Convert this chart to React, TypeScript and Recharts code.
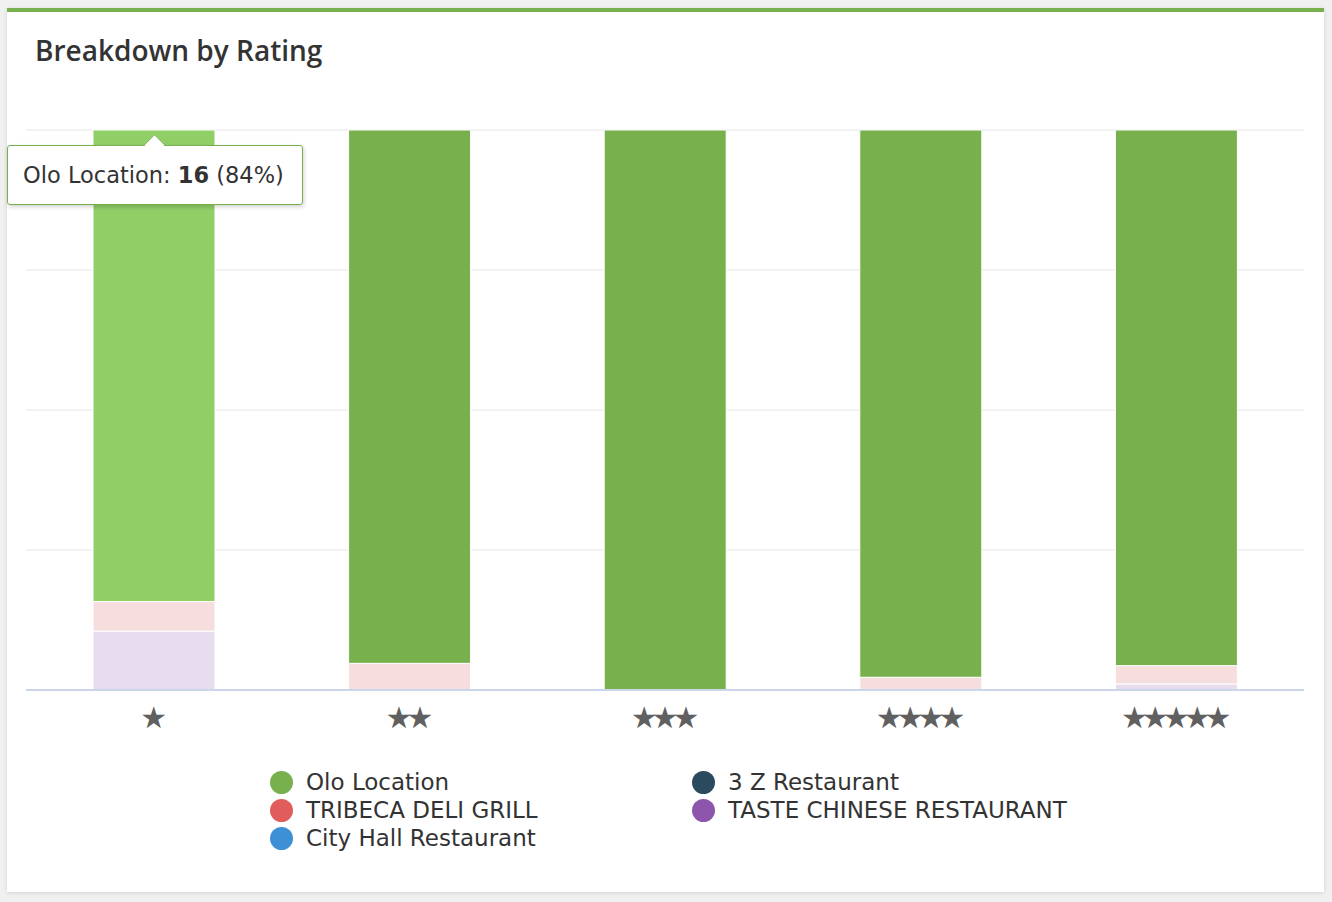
import React from "react";
import {
  BarChart,
  Bar,
  XAxis,
  YAxis,
  CartesianGrid,
  Tooltip,
  Cell,
} from "recharts";

const categories = ["★", "★★", "★★★", "★★★★", "★★★★★"];
const oloLocation = [16, 20, 36, 43, 88];
const tribecaDeliGrill = [1, 1, 0, 1, 3];
const cityHallRestaurant = [0, 0, 0, 0, 0];
const threeZRestaurant = [0, 0, 0, 0, 0];
const tasteChineseRestaurant = [2, 0, 0, 0, 1];

const yTicks = [0, 0.25, 0.5, 0.75, 1];

// series in legend order; fade = colour when another series is hovered
const seriesList = [
  { key: "olo", name: "Olo Location", values: oloLocation, color: "#78B04E", hover: "#90CE66", fade: "#78B04E" },
  { key: "tribeca", name: "TRIBECA DELI GRILL", values: tribecaDeliGrill, color: "#E05D5B", hover: "#E05D5B", fade: "#F6DEDE" },
  { key: "cityHall", name: "City Hall Restaurant", values: cityHallRestaurant, color: "#3D8FD6", hover: "#3D8FD6", fade: "#D8E9F7" },
  { key: "threeZ", name: "3 Z Restaurant", values: threeZRestaurant, color: "#2A4A5E", hover: "#2A4A5E", fade: "#D4DBDF" },
  { key: "taste", name: "TASTE CHINESE RESTAURANT", values: tasteChineseRestaurant, color: "#8E55AC", hover: "#8E55AC", fade: "#E8DDEE" },
];

const hoveredSeries = "olo";
const hoveredIndex = 0;

const data = categories.map((c, i) => {
  const row: Record<string, string | number> = { rating: c };
  seriesList.forEach((s) => (row[s.key] = s.values[i]));
  return row;
});

// bottom of the stack first
const stackOrder = [...seriesList].reverse();

const TITLE_FONT = "'Open Sans', 'DejaVu Sans', sans-serif";
const LABEL_FONT = "'DejaVu Sans', sans-serif";

function StarTick({ x, y, payload }: any) {
  return (
    <text
      x={x}
      y={y + 25}
      dx={-3}
      textAnchor="middle"
      dominantBaseline="central"
      fill="#606060"
      fontSize={30}
      fontFamily={LABEL_FONT}
      letterSpacing={-6}
    >
      {payload.value}
    </text>
  );
}

function TipBox() {
  const s = seriesList.find((d) => d.key === hoveredSeries)!;
  const v = s.values[hoveredIndex];
  const total = seriesList.reduce((a, d) => a + d.values[hoveredIndex], 0);
  const pct = Math.round((v / total) * 100);
  return (
    <div
      style={{
        position: "relative",
        width: 296,
        height: 60,
        background: "#fff",
        border: `1px solid ${s.color}`,
        borderRadius: 3,
        boxShadow: "1px 2px 4px rgba(0,0,0,0.18)",
        fontFamily: LABEL_FONT,
        fontSize: 22.5,
        color: "#333",
        boxSizing: "border-box",
        display: "flex",
        alignItems: "center",
        paddingLeft: 15,
      }}
    >
      <div
        style={{
          position: "absolute",
          left: 139,
          top: -9,
          width: 14,
          height: 14,
          background: "#fff",
          borderLeft: `1px solid ${s.color}`,
          borderTop: `1px solid ${s.color}`,
          transform: "rotate(45deg)",
        }}
      />
      <span style={{ position: "relative" }}>
        {s.name}: <b>{v}</b> ({pct}%)
      </span>
    </div>
  );
}

export default function App() {
  return (
    <div
      style={{
        position: "absolute",
        left: 0,
        top: 0,
        width: 1332,
        height: 902,
        background: "#f0f0f0",
        overflow: "hidden",
      }}
    >
      <div
        style={{
          position: "absolute",
          left: 7,
          top: 8,
          width: 1317,
          height: 884,
          background: "#fff",
          borderTop: "4px solid #78B04E",
          boxSizing: "border-box",
          boxShadow: "0 1px 4px rgba(0,0,0,0.12)",
        }}
      />
      <div
        style={{
          position: "absolute",
          left: 35,
          top: 31,
          fontFamily: TITLE_FONT,
          fontWeight: 600,
          fontSize: 28,
          color: "#333",
        }}
      >
        Breakdown by Rating
      </div>
      <div style={{ position: "absolute", left: 0, top: 0 }}>
        <BarChart
          width={1332}
          height={760}
          data={data}
          stackOffset="expand"
          margin={{ top: 130, left: 26, right: 28, bottom: 0 }}
          barSize={122}
        >
          <CartesianGrid vertical={false} stroke="#e6e6e6" />
          <YAxis hide domain={[0, 1]} ticks={yTicks} />
          <XAxis
            dataKey="rating"
            height={70}
            axisLine={{ stroke: "#ccd6eb", strokeWidth: 2 }}
            tickLine={false}
            tickSize={0}
            tick={<StarTick />}
            interval={0}
          />
          {stackOrder.map((s) => (
            <Bar
              key={s.key}
              dataKey={s.key}
              name={s.name}
              stackId="rating"
              stroke="#fff"
              strokeWidth={1}
              isAnimationActive={false}
            >
              {categories.map((c, i) => (
                <Cell
                  key={c}
                  fill={
                    s.key === hoveredSeries
                      ? i === hoveredIndex
                        ? s.hover
                        : s.color
                      : s.fade
                  }
                />
              ))}
            </Bar>
          ))}
          <Tooltip
            active
            defaultIndex={hoveredIndex}
            cursor={false}
            isAnimationActive={false}
            position={{ x: 7, y: 145 }}
            wrapperStyle={{ outline: "none" }}
            content={<TipBox />}
          />
        </BarChart>
      </div>
      <div
        style={{
          position: "absolute",
          left: 270,
          top: 768,
          display: "grid",
          gridTemplateColumns: "422px 400px",
          gridAutoFlow: "column",
          gridTemplateRows: "28px 28px 28px",
          fontFamily: LABEL_FONT,
          fontSize: 23,
          lineHeight: "26px",
          color: "#333",
        }}
      >
        {seriesList.map((s) => (
          <div
            key={s.key}
            style={{ display: "flex", alignItems: "center", whiteSpace: "nowrap" }}
          >
            <span
              style={{
                display: "inline-block",
                flex: "none",
                width: 23,
                height: 23,
                borderRadius: "50%",
                background: s.color,
                marginRight: 13,
              }}
            />
            {s.name}
          </div>
        ))}
      </div>
    </div>
  );
}
